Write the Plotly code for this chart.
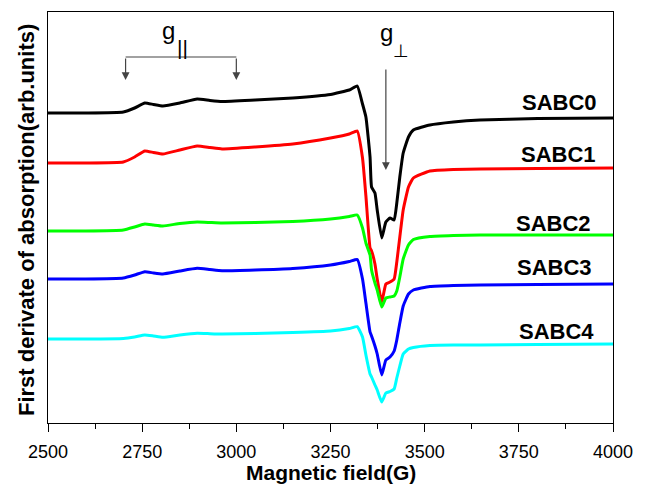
import plotly.graph_objects as go

# Magnetic field (G)
field = [2500, 2600, 2700, 2730, 2757, 2780, 2805, 2850, 2896, 2930, 2962, 3050,
         3150, 3250, 3300, 3321, 3335, 3344, 3355, 3359, 3368, 3374, 3386, 3397,
         3408, 3419, 3426, 3434, 3443, 3457, 3470, 3514, 3576, 3647, 3800, 4000]

# Offset first-derivative spectra (arb. units, stacked; larger = lower on the plot)
sabc0 = [113, 113, 112, 108, 103, 104.5, 106, 103, 99, 100.5, 101.5, 100,
         98, 94.5, 90, 86, 104, 117, 157, 187, 193, 210, 238, 222,
         218, 220, 203, 177, 153, 137, 130, 125, 122, 120, 118.5, 118]
sabc1 = [163, 163, 162, 157, 151, 152.5, 154, 150, 146, 147.5, 149, 147,
         144, 138, 134, 131, 158, 196, 248, 251, 264, 279, 302, 284,
         282, 279, 262, 237, 210, 187, 178, 171, 169.5, 169, 168.5, 168]
sabc2 = [231, 231, 230, 227, 224, 225, 226, 223.5, 222, 222.5, 223, 222.5,
         221.5, 219, 216.5, 215, 228, 243, 255, 270, 283, 290, 307, 298,
         297, 296, 291, 277, 259, 245, 239.5, 236.5, 235.5, 235, 235, 235]
sabc3 = [279, 279, 278, 275, 271.7, 273, 274, 271, 268.3, 269.5, 270.7, 270,
         268.5, 265, 261.5, 259.5, 279, 303, 332, 336, 346, 354, 375, 360,
         357, 351, 340, 323, 306, 294, 290, 286.5, 285.5, 285, 284.5, 284]
sabc4 = [339, 339, 338.5, 337, 335, 336, 337.3, 335, 333.3, 333.7, 334, 333.5,
         332.5, 331, 328.5, 326.7, 337, 355, 374, 377, 385, 390, 402, 393,
         391.5, 389, 378, 366, 354, 349, 347.5, 345.5, 345, 345, 344.5, 344]

names = ["SABC0", "SABC1", "SABC2", "SABC3", "SABC4"]
series = [sabc0, sabc1, sabc2, sabc3, sabc4]
colors = ["#000000", "#ff0000", "#00ff00", "#0000ff", "#00ffff"]
label_x = [3859, 3854, 3842, 3846, 3850]
label_y = [102, 154, 223, 267, 331]

tick_vals = [2500, 2750, 3000, 3250, 3500, 3750, 4000]
tick_text = ["2500", "2750", "3000", "3250", "3500", "3750", "4000"]

g_par_fields = [2706, 3000]
g_perp_field = 3397

fig = go.Figure()
for name, ys, c in zip(names, series, colors):
    fig.add_trace(go.Scatter(x=field, y=ys, mode="lines", name=name,
                             line=dict(color=c, width=3, shape="spline", smoothing=0.4),
                             showlegend=False))

ann = []
for name, lx, ly in zip(names, label_x, label_y):
    ann.append(dict(x=lx, y=ly, xref="x", yref="y", text="<b>%s</b>" % name,
                    xanchor="center", yanchor="middle",
                    showarrow=False, font=dict(size=22, color="black",
                                               family="Liberation Sans")))

# g-parallel bracket and arrows
for f in g_par_fields:
    ann.append(dict(x=f, y=80, ax=f, ay=57, xref="x", yref="y", axref="x", ayref="y",
                    text="", showarrow=True, arrowhead=2, arrowsize=1.3,
                    arrowwidth=1.2, arrowcolor="#444444"))
ann.append(dict(x=g_perp_field, y=170, ax=g_perp_field, ay=68, xref="x", yref="y",
                axref="x", ayref="y", text="", showarrow=True, arrowhead=2,
                arrowsize=1.3, arrowwidth=1.2, arrowcolor="#444444"))

gfont = dict(size=24, color="black", family="Liberation Sans")
ann.append(dict(x=2819, y=30, xref="x", yref="y", text="g", showarrow=False,
                xanchor="center", yanchor="middle", font=gfont))
ann.append(dict(x=2858, y=47, xref="x", yref="y", text="||", showarrow=False,
                xanchor="center", yanchor="middle",
                font=dict(size=21, color="black", family="Liberation Sans")))
ann.append(dict(x=3398, y=32, xref="x", yref="y", text="g", showarrow=False,
                xanchor="center", yanchor="middle", font=gfont))
ann.append(dict(x=3436, y=50, xref="x", yref="y", text="⊥", showarrow=False,
                xanchor="center", yanchor="middle",
                font=dict(size=18, color="black", family="DejaVu Sans")))

# axis titles
ann.append(dict(x=0.5, y=-0.12, xref="paper", yref="paper",
                xanchor="center", yanchor="middle",
                text="<b>Magnetic field(G)</b>", showarrow=False,
                font=dict(size=21, color="black", family="Liberation Sans")))
ann.append(dict(x=-0.037, y=0.494, xref="paper", yref="paper", textangle=-90,
                xanchor="center", yanchor="middle",
                text="<b>First derivate of absorption(arb.units)</b>", showarrow=False,
                font=dict(size=22, color="black", family="Liberation Sans")))

fig.add_shape(type="line", x0=g_par_fields[0], x1=g_par_fields[1], y0=57, y1=57,
              xref="x", yref="y", line=dict(color="#444444", width=1.2))

fig.update_layout(
    width=646, height=495,
    margin=dict(l=48, r=33, t=12, b=72),
    paper_bgcolor="white", plot_bgcolor="white",
    annotations=ann,
    xaxis=dict(range=[2500, 4000], tickvals=tick_vals, ticktext=tick_text,
               ticks="outside", ticklen=8, tickwidth=1.2, tickcolor="black",
               ticklabelstandoff=4,
               showline=True, linecolor="black", linewidth=1.2, mirror=True,
               showgrid=False, zeroline=False,
               tickfont=dict(size=18, color="black", family="Liberation Sans"),
               minor=dict(dtick=125, tick0=2500, ticks="outside", ticklen=5,
                          tickwidth=1.2, tickcolor="black", showgrid=False)),
    yaxis=dict(range=[423, 12], showticklabels=False, ticks="",
               showline=True, linecolor="black", linewidth=1.2, mirror=True,
               showgrid=False, zeroline=False),
)

fig.write_html("out.html")
